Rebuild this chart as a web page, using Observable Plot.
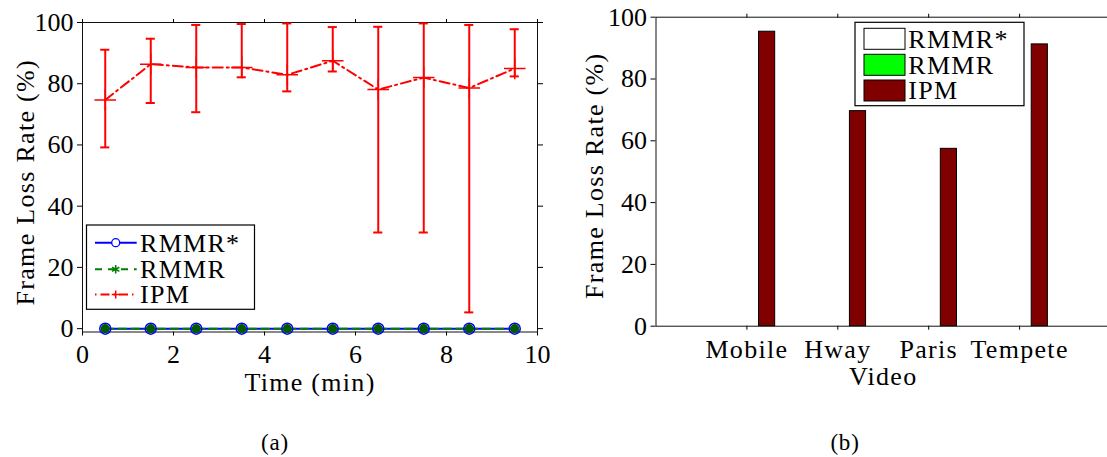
<!DOCTYPE html>
<html><head><meta charset="utf-8">
<script src="https://cdn.jsdelivr.net/npm/d3@7"></script>
<script src="https://cdn.jsdelivr.net/npm/@observablehq/plot@0.6"></script>
<style>
html,body{margin:0;padding:0;background:#fff;overflow:hidden}
#wrap{position:relative;width:1107px;height:457px;overflow:hidden;background:#fff}
#wrap > svg{position:absolute;top:0}
</style></head><body><div id="wrap"></div>
<script>
// ---- data (a) ----
const times = [0.5, 1.5, 2.5, 3.5, 4.5, 5.5, 6.5, 7.5, 8.5, 9.5];
const ipmMean = [74.7, 86.4, 85.3, 85.3, 82.9, 87.5, 78.1, 82.0, 78.6, 85.0];
const ipmHigh = [91.1, 94.7, 99.2, 99.5, 99.7, 98.5, 98.6, 99.7, 99.2, 97.8];
const ipmLow  = [59.2, 73.7, 70.7, 82.1, 77.5, 84.0, 31.4, 31.4, 5.3, 82.4];
const rmmrStar = [0, 0, 0, 0, 0, 0, 0, 0, 0, 0];
const rmmr     = [0, 0, 0, 0, 0, 0, 0, 0, 0, 0];
const lineSeries = ["RMMR*", "RMMR", "IPM"];
const xTicksA = [0, 2, 4, 6, 8, 10];
const yTicks = [0, 20, 40, 60, 80, 100];
// ---- data (b) ----
const videos = ["Mobile", "Hway", "Paris", "Tempete"];
const barSeries = ["RMMR*", "RMMR", "IPM"];
const barRMMRStar = [0, 0, 0, 0];
const barRMMR = [0, 0, 0, 0];
const barIPM = [95.3, 69.6, 57.4, 91.2];
const captions = ["(a)", "(b)"];

const font = "'Liberation Serif', 'Times New Roman', serif";
const wrap = document.getElementById("wrap");

function spaceWords(svg, ls) {
  d3.select(svg).selectAll("text").each(function () {
    if (/[A-Za-z]/.test(this.textContent)) this.style.letterSpacing = ls;
  });
}

// ---------- panel (a) ----------
const rowsA = times.map((t, i) => ({t, mean: ipmMean[i], lo: ipmLow[i], hi: ipmHigh[i], a: rmmrStar[i], b: rmmr[i]}));
const left = Plot.plot({
  width: 560, height: 400,
  marginLeft: 82, marginRight: 23, marginTop: 22, marginBottom: 68.5,
  style: {fontFamily: font, fontSize: "26px", background: "transparent", color: "#000", overflow: "visible"},
  x: {domain: [0, 10]},
  y: {domain: [-1.1, 100]},
  marks: [
    Plot.axisX({ticks: xTicksA, tickSize: 4, tickPadding: 9, fontSize: 26, label: null}),
    Plot.axisX({anchor: "top", ticks: xTicksA, tickSize: 4, tickFormat: () => "", label: null}),
    Plot.axisY({ticks: yTicks, tickSize: 5, tickPadding: 4, fontSize: 26, label: null}),
    Plot.axisY({anchor: "right", ticks: yTicks, tickSize: 5, tickFormat: () => "", label: null}),
    Plot.frame({stroke: "#111"}),
    Plot.ruleX(rowsA, {x: "t", y1: "lo", y2: "hi", stroke: "#ff0000", strokeWidth: 2}),
    Plot.ruleY(rowsA, {y: "lo", x1: d => d.t - 0.1, x2: d => d.t + 0.1, stroke: "#ff0000", strokeWidth: 2}),
    Plot.ruleY(rowsA, {y: "hi", x1: d => d.t - 0.1, x2: d => d.t + 0.1, stroke: "#ff0000", strokeWidth: 2}),
    Plot.line(rowsA, {x: "t", y: "mean", stroke: "#ff0000", strokeWidth: 2, strokeDasharray: "10,4,2,4"}),
    Plot.dot(rowsA, {x: "t", y: "mean", symbol: "plus", r: 7, stroke: "#ff0000", strokeWidth: 1.5}),
    Plot.line(rowsA, {x: "t", y: "a", stroke: "#0000ff", strokeWidth: 2}),
    Plot.line(rowsA, {x: "t", y: "b", stroke: "#007f00", strokeWidth: 2, strokeDasharray: "8,5"}),
    Plot.dot(rowsA, {x: "t", y: "a", r: 5.5, stroke: "#0000ff", strokeWidth: 1.5, fill: "none"}),
    Plot.dot(rowsA, {x: "t", y: "b", r: 4.6, fill: "#005a00"}),
    Plot.text(["Time (min)"], {text: d => d, frameAnchor: "bottom", textAnchor: "middle", lineAnchor: "middle", dy: 50.2, fontSize: 26}),
    Plot.text(["Frame Loss Rate (%)"], {text: d => d, frameAnchor: "left", textAnchor: "middle", lineAnchor: "middle", dx: -57, dy: 5, rotate: -90, fontSize: 26})
  ]
});
left.style.left = "0px";
wrap.appendChild(left);
(function legendA(svg) {
  const g = d3.select(svg).append("g").attr("font-family", font).attr("font-size", 26).attr("text-anchor", "start");
  g.append("rect").attr("x", 86.5).attr("y", 225).attr("width", 168).attr("height", 84.3)
    .attr("fill", "#fff").attr("stroke", "#000").attr("stroke-width", 1.2);
  const ys = [242.7, 269.3, 294.5];
  // RMMR*
  g.append("line").attr("x1", 95).attr("x2", 136.7).attr("y1", ys[0]).attr("y2", ys[0]).attr("stroke", "#0000ff").attr("stroke-width", 2);
  g.append("circle").attr("cx", 115.7).attr("cy", ys[0]).attr("r", 4).attr("fill", "#fff").attr("stroke", "#0000ff").attr("stroke-width", 1.3);
  // RMMR
  g.append("line").attr("x1", 95).attr("x2", 136.7).attr("y1", ys[1]).attr("y2", ys[1]).attr("stroke", "#007f00").attr("stroke-width", 2).attr("stroke-dasharray", "7,6");
  g.append("path").attr("transform", `translate(115.7,${ys[1]})`).attr("d", d3.symbol(d3.symbolAsterisk, 50)()).attr("stroke", "#007f00").attr("stroke-width", 1.6).attr("fill", "none");
  // IPM
  g.append("line").attr("x1", 95).attr("x2", 136.7).attr("y1", ys[2]).attr("y2", ys[2]).attr("stroke", "#ff0000").attr("stroke-width", 2).attr("stroke-dasharray", "1.5,4,9,4");
  g.append("path").attr("transform", `translate(115.7,${ys[2]})`).attr("d", "M-4,0H4M0,-4V4").attr("stroke", "#ff0000").attr("stroke-width", 1.5);
  const bases = [251.7, 278.3, 303.3];
  lineSeries.forEach((s, i) => g.append("text").attr("x", 140).attr("y", bases[i]).attr("text-anchor", "start").text(s));
})(left);
spaceWords(left, "1.3px");

// ---------- panel (b) ----------
const barRows = [];
videos.forEach((v, i) => [barRMMRStar, barRMMR, barIPM].forEach((arr, j) =>
  barRows.push({video: v, pos: i + 1, series: barSeries[j], j, value: arr[i]})));
const bw = 0.0889, off = 0.2222;
const right = Plot.plot({
  width: 560, height: 400,
  marginLeft: 95.5, marginRight: 10, marginTop: 16.7, marginBottom: 74.3,
  style: {fontFamily: font, fontSize: "26px", background: "transparent", color: "#000", overflow: "visible"},
  x: {domain: [0, 5]},
  y: {domain: [0, 100]},
  color: {domain: barSeries, range: ["#ffffff", "#00ff00", "#800000"]},
  marks: [
    Plot.rectY(barRows, {x1: d => d.pos + (d.j - 1) * off - bw, x2: d => d.pos + (d.j - 1) * off + bw,
      y1: 0, y2: "value", fill: "series", stroke: "#000", strokeWidth: 1}),
    Plot.axisX({ticks: [1, 2, 3, 4], tickFormat: d => videos[d - 1], tickSize: 4, tickPadding: 9, fontSize: 26, label: null}),
    Plot.axisX({anchor: "top", ticks: [1, 2, 3, 4], tickSize: 4, tickFormat: () => "", label: null}),
    Plot.axisY({ticks: yTicks, tickSize: 5, tickPadding: 4, fontSize: 26, label: null}),
    Plot.frame({stroke: "#111"}),
    Plot.text(["Video"], {text: d => d, frameAnchor: "bottom", textAnchor: "middle", lineAnchor: "middle", dy: 50.3, fontSize: 26}),
    Plot.text(["Frame Loss Rate (%)"], {text: d => d, frameAnchor: "left", textAnchor: "middle", lineAnchor: "middle", dx: -61.5, dy: 4, rotate: -90, fontSize: 26})
  ]
});
right.style.left = "560px";
wrap.appendChild(right);
(function legendB(svg) {
  const ox = -560;
  const g = d3.select(svg).append("g").attr("font-family", font).attr("font-size", 26).attr("text-anchor", "start");
  g.append("rect").attr("x", 855 + ox).attr("y", 22.3).attr("width", 169).attr("height", 83.4)
    .attr("fill", "#fff").attr("stroke", "#000").attr("stroke-width", 1.2);
  const fills = ["#ffffff", "#00ff00", "#800000"];
  const tops = [28.3, 54.3, 80];
  const bases = [48.3, 74, 99];
  barSeries.forEach((s, i) => {
    g.append("rect").attr("x", 864 + ox).attr("y", tops[i]).attr("width", 41).attr("height", 21)
      .attr("fill", fills[i]).attr("stroke", "#000").attr("stroke-width", 1);
    g.append("text").attr("x", 908.3 + ox).attr("y", bases[i]).attr("text-anchor", "start").text(s);
  });
})(right);
spaceWords(right, "1.3px");

// ---------- captions ----------
const cap = d3.create("svg").attr("width", 1107).attr("height", 457).style("left", "0px").style("pointer-events", "none");
const capX = [275, 845];
captions.forEach((c, i) => cap.append("text").attr("x", capX[i]).attr("y", 450).attr("text-anchor", "middle")
  .attr("font-family", font).attr("font-size", 23).style("letter-spacing", "0.8px").text(c));
wrap.appendChild(cap.node());
</script></body></html>
